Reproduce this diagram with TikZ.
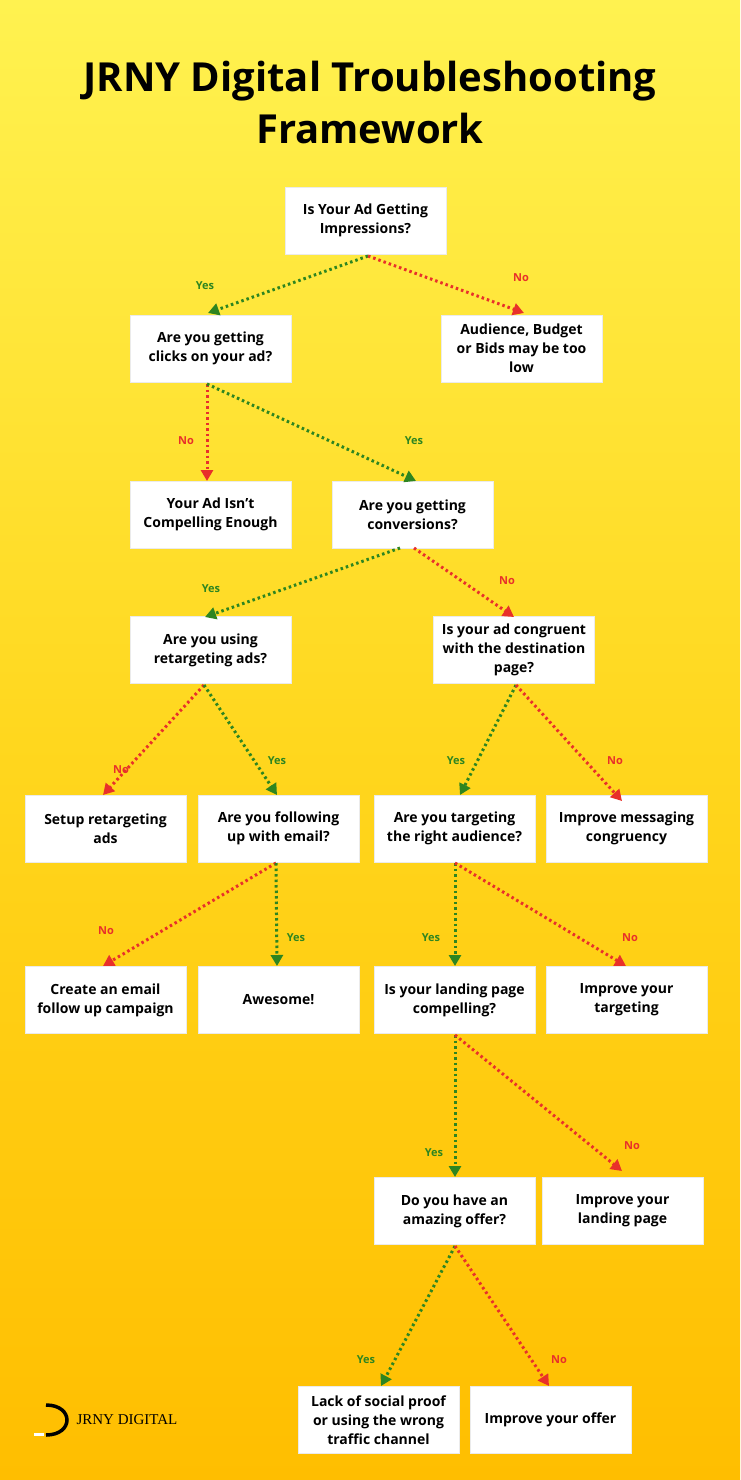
\documentclass[tikz,border=0pt]{standalone}
\usepackage{fontspec}
\setmainfont{Open Sans}
\newfontfamily\logofont{Liberation Serif}
\usetikzlibrary{arrows.meta}
\definecolor{ygreen}{HTML}{2E8520}
\definecolor{yred}{HTML}{E8302A}
\begin{document}
\begin{tikzpicture}[x=1pt,y=-1pt,
  box/.style={fill=white,draw=black!8,minimum width=161pt,minimum height=67pt,align=center,font=\fontsize{14}{19}\selectfont\bfseries,inner sep=2pt},
  yesarr/.style={draw=ygreen,line width=3pt,dash pattern=on 2.5pt off 3pt,-{Triangle[length=11pt,width=12pt]}},
  noarr/.style={draw=yred,line width=3pt,dash pattern=on 2.5pt off 3pt,-{Triangle[length=11pt,width=12pt]}},
  ylab/.style={text=ygreen,font=\fontsize{11}{13}\selectfont\bfseries},
  nlab/.style={text=yred,font=\fontsize{11}{13}\selectfont\bfseries}]
\useasboundingbox (0,0) rectangle (740,1480);
\shade[top color={rgb,255:red,255;green,242;blue,80},bottom color={rgb,255:red,255;green,190;blue,0},middle color={rgb,255:red,255;green,215;blue,30}] (0,0) rectangle (740,1480);
\node[font=\fontsize{40}{52}\selectfont\bfseries,align=center] (title) at (370,102) {JRNY Digital Troubleshooting\\Framework};
\node[box] (A) at (365.5,220.5) {Is Your Ad Getting\\Impressions?};
\node[box] (B) at (210.5,348.5) {Are you getting\\clicks on your ad?};
\node[box] (C) at (521.5,348.5) {Audience, Budget\\or Bids may be too\\low};
\node[box] (D) at (210.5,514.5) {Your Ad Isn't\\Compelling Enough};
\node[box] (E) at (412.5,514.5) {Are you getting\\conversions?};
\node[box] (F) at (210.5,650) {Are you using\\retargeting ads?};
\node[box] (G) at (514,650) {Is your ad congruent\\with the destination\\page?};
\node[box] (H) at (105.5,828.5) {Setup retargeting\\ads};
\node[box] (I) at (278.5,828.5) {Are you following\\up with email?};
\node[box] (J) at (454.5,828.5) {Are you targeting\\the right audience?};
\node[box] (K) at (626.5,828.5) {Improve messaging\\congruency};
\node[box] (L) at (105.5,1000) {Create an email\\follow up campaign};
\node[box] (M) at (278.5,1000) {Awesome!};
\node[box] (N) at (454.5,1000) {Is your landing page\\compelling?};
\node[box] (O) at (626.5,1000) {Improve your\\targeting};
\node[box] (P) at (454.5,1211) {Do you have an\\amazing offer?};
\node[box] (Q) at (622.5,1211) {Improve your\\landing page};
\node[box] (R) at (378.5,1420) {Lack of social proof\\or using the wrong\\traffic channel};
\node[box] (S) at (550.5,1420) {Improve your offer};
\coordinate (a1) at (368,256);
\draw[yesarr] (a1) -- (208,313);
\draw[noarr] (a1) -- (524,313);
\coordinate (b1) at (207,384);
\draw[noarr] (b1) -- (207,481);
\draw[yesarr] (b1) -- (416,481);
\coordinate (e1) at (400,548);
\coordinate (e2) at (414,548);
\draw[yesarr] (e1) -- (205,617);
\draw[noarr] (e2) -- (514,617);
\coordinate (f1) at (204,685);
\draw[noarr] (f1) -- (103,795);
\draw[yesarr] (f1) -- (277,795);
\coordinate (g1) at (516,685);
\draw[yesarr] (g1) -- (460,795);
\draw[noarr] (g1) -- (622,801);
\coordinate (i1) at (276,863);
\draw[noarr] (i1) -- (103,966);
\draw[yesarr] (i1) -- (277,966);
\coordinate (j1) at (455,863);
\draw[yesarr] (j1) -- (455,966);
\draw[noarr] (j1) -- (626,966);
\coordinate (n1) at (455,1035);
\draw[yesarr] (n1) -- (455,1177);
\draw[noarr] (n1) -- (622,1171);
\coordinate (p1) at (455,1246);
\draw[yesarr] (p1) -- (381,1386);
\draw[noarr] (p1) -- (549,1386);
\node[ylab] at (205,286) {Yes};
\node[nlab] at (521,278) {No};
\node[nlab] at (186,441) {No};
\node[ylab] at (414,441) {Yes};
\node[ylab] at (211,589) {Yes};
\node[nlab] at (507,581) {No};
\node[nlab] at (121,770) {No};
\node[ylab] at (277,761) {Yes};
\node[ylab] at (456,761) {Yes};
\node[nlab] at (615,761) {No};
\node[nlab] at (106,931) {No};
\node[ylab] at (296,938) {Yes};
\node[ylab] at (431,938) {Yes};
\node[nlab] at (630,938) {No};
\node[ylab] at (434,1153) {Yes};
\node[nlab] at (632,1146) {No};
\node[ylab] at (366,1360) {Yes};
\node[nlab] at (559,1360) {No};
\draw[line width=3.5pt] (46,1405) .. controls (74,1405) and (74,1435) .. (46,1435);
\draw[white,line width=3pt] (34,1434) -- (44,1434);
\node[anchor=west,font=\logofont\fontsize{15}{18}\selectfont] (logo) at (73,1420) {JRNY DIGITAL};
\end{tikzpicture}
\end{document}
